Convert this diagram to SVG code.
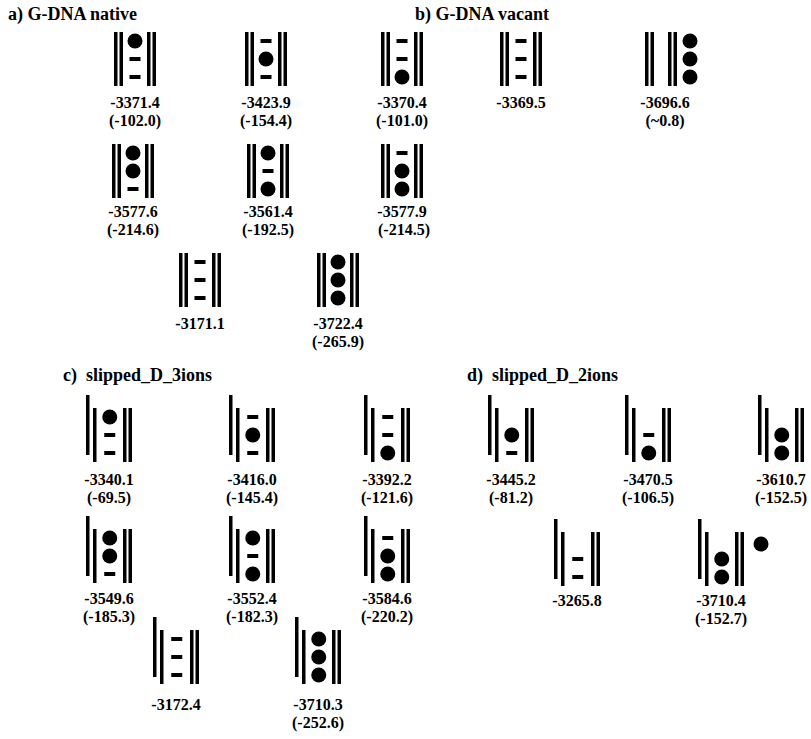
<svg xmlns="http://www.w3.org/2000/svg" width="811" height="739" viewBox="0 0 811 739">
<style>
  .t { font-family: "Liberation Serif", "Times New Roman", serif; font-weight: bold; font-size: 18px; fill: #000; }
  .l { font-family: "Liberation Serif", "Times New Roman", serif; font-weight: bold; font-size: 16px; fill: #000; text-anchor: middle; }
  .k { fill: #000; }
</style>
<defs>
  <g id="nat" class="k">
    <rect x="0" y="0" width="3.5" height="54"/>
    <rect x="5.5" y="0" width="3.5" height="54"/>
    <rect x="33" y="0" width="3.5" height="54"/>
    <rect x="38.5" y="0" width="3.5" height="54"/>
  </g>
  <g id="slip" class="k">
    <rect x="0" y="-13" width="3.5" height="60"/>
    <rect x="7" y="0" width="3.5" height="54"/>
    <rect x="37" y="0" width="3.5" height="54"/>
    <rect x="42.5" y="0" width="3.5" height="54"/>
  </g>
  <rect id="dash" class="k" x="-5.5" y="-2" width="11" height="4"/>
  <circle id="ion" class="k" cx="0" cy="0" r="7.5"/>
</defs>
<rect x="0" y="0" width="811" height="739" style="fill:#fff"/>

<text class="t" x="8" y="20">a) G-DNA native</text>
<text class="t" x="415" y="20">b) G-DNA vacant</text>
<text class="t" x="63" y="381" xml:space="preserve">c)  slipped_D_3ions</text>
<text class="t" x="467" y="381" xml:space="preserve">d)  slipped_D_2ions</text>

<g id="connectors"></g>

<!-- a) row 1 -->
<g id="a_3371" transform="translate(114,32)">
  <use href="#nat"/>
  <use href="#ion" x="21" y="9"/><use href="#dash" x="21" y="27"/><use href="#dash" x="21" y="45"/>
  <text class="l" x="21" y="76">-3371.4</text><text class="l" x="21" y="94">(-102.0)</text>
</g>
<g id="a_3423" transform="translate(245,32)">
  <use href="#nat"/>
  <use href="#dash" x="21" y="9"/><use href="#ion" x="21" y="27"/><use href="#dash" x="21" y="45"/>
  <text class="l" x="21" y="76">-3423.9</text><text class="l" x="21" y="94">(-154.4)</text>
</g>
<g id="a_3370" transform="translate(381,32)">
  <use href="#nat"/>
  <use href="#dash" x="21" y="9"/><use href="#dash" x="21" y="27"/><use href="#ion" x="21" y="45"/>
  <text class="l" x="21" y="76">-3370.4</text><text class="l" x="21" y="94">(-101.0)</text>
</g>
<!-- a) row 2 -->
<g id="a_3577_6" transform="translate(112,144)">
  <use href="#nat"/>
  <use href="#ion" x="21" y="9"/><use href="#ion" x="21" y="27"/><use href="#dash" x="21" y="45"/>
  <text class="l" x="21" y="73">-3577.6</text><text class="l" x="21" y="91">(-214.6)</text>
</g>
<g id="a_3561" transform="translate(247,144)">
  <use href="#nat"/>
  <use href="#ion" x="21" y="9"/><use href="#dash" x="21" y="27"/><use href="#ion" x="21" y="45"/>
  <text class="l" x="21" y="73">-3561.4</text><text class="l" x="21" y="91">(-192.5)</text>
</g>
<g id="a_3577_9" transform="translate(381,144)">
  <use href="#nat"/>
  <use href="#dash" x="21" y="9"/><use href="#ion" x="21" y="27"/><use href="#ion" x="21" y="45"/>
  <text class="l" x="21" y="73">-3577.9</text><text class="l" x="23" y="91">(-214.5)</text>
</g>
<!-- a) row 3 -->
<g id="a_3171" transform="translate(179,253)">
  <use href="#nat"/>
  <use href="#dash" x="21" y="9"/><use href="#dash" x="21" y="27"/><use href="#dash" x="21" y="45"/>
  <text class="l" x="21" y="76">-3171.1</text>
</g>
<g id="a_3722" transform="translate(317,253)">
  <use href="#nat"/>
  <use href="#ion" x="21" y="9"/><use href="#ion" x="21" y="27"/><use href="#ion" x="21" y="45"/>
  <text class="l" x="21" y="76">-3722.4</text><text class="l" x="21" y="94">(-265.9)</text>
</g>

<!-- b) -->
<g id="b_3369" transform="translate(500,32)">
  <use href="#nat"/>
  <use href="#dash" x="21" y="9"/><use href="#dash" x="21" y="27"/><use href="#dash" x="21" y="45"/>
  <text class="l" x="21" y="76">-3369.5</text>
</g>
<g id="b_3696" transform="translate(645,32)">
  <rect class="k" x="0" y="0" width="3.5" height="54"/>
  <rect class="k" x="5.5" y="0" width="3.5" height="54"/>
  <rect class="k" x="23" y="0" width="3.5" height="54"/>
  <rect class="k" x="28.5" y="0" width="3.5" height="54"/>
  <use href="#ion" x="45" y="9"/><use href="#ion" x="45" y="27"/><use href="#ion" x="45" y="45"/>
  <text class="l" x="20" y="76">-3696.6</text><text class="l" x="20" y="94">(~0.8)</text>
</g>

<!-- c) row 1 -->
<g id="c_3340" transform="translate(86,408)">
  <use href="#slip"/>
  <use href="#ion" x="23.75" y="9"/><use href="#dash" x="23.75" y="27"/><use href="#dash" x="23.75" y="45"/>
  <text class="l" x="23" y="77">-3340.1</text><text class="l" x="23" y="95">(-69.5)</text>
</g>
<g id="c_3416" transform="translate(229,408)">
  <use href="#slip"/>
  <use href="#dash" x="23.75" y="9"/><use href="#ion" x="23.75" y="27"/><use href="#dash" x="23.75" y="45"/>
  <text class="l" x="23" y="77">-3416.0</text><text class="l" x="23" y="95">(-145.4)</text>
</g>
<g id="c_3392" transform="translate(364,408)">
  <use href="#slip"/>
  <use href="#dash" x="23.75" y="9"/><use href="#dash" x="23.75" y="27"/><use href="#ion" x="23.75" y="45"/>
  <text class="l" x="23" y="77">-3392.2</text><text class="l" x="23" y="95">(-121.6)</text>
</g>
<!-- c) row 2 -->
<g id="c_3549" transform="translate(86,529)">
  <use href="#slip"/>
  <use href="#ion" x="23.75" y="9"/><use href="#ion" x="23.75" y="27"/><use href="#dash" x="23.75" y="45"/>
  <text class="l" x="23" y="75">-3549.6</text><text class="l" x="23" y="93">(-185.3)</text>
</g>
<g id="c_3552" transform="translate(229,529)">
  <use href="#slip"/>
  <use href="#ion" x="23.75" y="9"/><use href="#dash" x="23.75" y="27"/><use href="#ion" x="23.75" y="45"/>
  <text class="l" x="23" y="75">-3552.4</text><text class="l" x="23" y="93">(-182.3)</text>
</g>
<g id="c_3584" transform="translate(364,529)">
  <use href="#slip"/>
  <use href="#dash" x="23.75" y="9"/><use href="#ion" x="23.75" y="27"/><use href="#ion" x="23.75" y="45"/>
  <text class="l" x="23" y="75">-3584.6</text><text class="l" x="23" y="93">(-220.2)</text>
</g>
<!-- c) row 3 -->
<g id="c_3172" transform="translate(153,630)">
  <use href="#slip"/>
  <use href="#dash" x="23.75" y="9"/><use href="#dash" x="23.75" y="27"/><use href="#dash" x="23.75" y="45"/>
  <text class="l" x="23" y="80">-3172.4</text>
</g>
<g id="c_3710" transform="translate(295,630)">
  <use href="#slip"/>
  <use href="#ion" x="23.75" y="9"/><use href="#ion" x="23.75" y="27"/><use href="#ion" x="23.75" y="45"/>
  <text class="l" x="23" y="80">-3710.3</text><text class="l" x="23" y="98">(-252.6)</text>
</g>

<!-- d) row 1 -->
<g id="d_3445" transform="translate(488,408)">
  <use href="#slip"/>
  <use href="#ion" x="23.75" y="27"/><use href="#dash" x="23.75" y="45"/>
  <text class="l" x="23" y="77">-3445.2</text><text class="l" x="23" y="95">(-81.2)</text>
</g>
<g id="d_3470" transform="translate(625,408)">
  <use href="#slip"/>
  <use href="#dash" x="23.75" y="27"/><use href="#ion" x="23.75" y="45"/>
  <text class="l" x="23" y="77">-3470.5</text><text class="l" x="23" y="95">(-106.5)</text>
</g>
<g id="d_3610" transform="translate(758,408)">
  <use href="#slip"/>
  <use href="#ion" x="23.75" y="27"/><use href="#ion" x="23.75" y="45"/>
  <text class="l" x="23" y="77">-3610.7</text><text class="l" x="23" y="95">(-152.5)</text>
</g>
<!-- d) row 2 -->
<g id="d_3265" transform="translate(554,532)">
  <use href="#slip"/>
  <use href="#dash" x="23.75" y="27"/><use href="#dash" x="23.75" y="45"/>
  <text class="l" x="23" y="74">-3265.8</text>
</g>
<g id="d_3710" transform="translate(698,532)">
  <use href="#slip"/>
  <use href="#ion" x="23.75" y="27"/><use href="#ion" x="23.75" y="45"/>
  <use href="#ion" x="63" y="12"/>
  <text class="l" x="23" y="74">-3710.4</text><text class="l" x="23" y="92">(-152.7)</text>
</g>
</svg>
